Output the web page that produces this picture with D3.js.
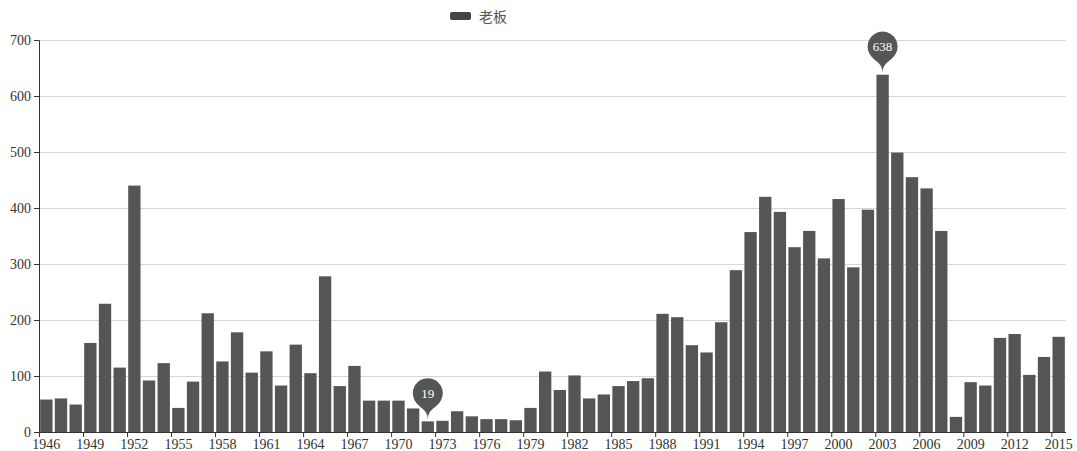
<!DOCTYPE html>
<html>
<head>
<meta charset="utf-8">
<script src="https://cdn.jsdelivr.net/npm/d3@7/dist/d3.min.js"></script>
<style>
  html, body { margin: 0; padding: 0; background: #fff; }
  svg { display: block; }
</style>
</head>
<body>
<svg id="chart" width="1077" height="451"></svg>
<script>
const seriesName = "老板";
const years = d3.range(1946, 2016).map(String);
const values = [
  58, 60, 49, 159, 229, 115, 440, 92, 123, 43,
  90, 212, 126, 178, 106, 144, 83, 156, 105, 278,
  82, 118, 56, 56, 56, 42, 19, 20, 37, 28,
  23, 23, 21, 43, 108, 75, 101, 60, 67, 82,
  91, 96, 211, 205, 155, 142, 196, 289, 357, 420,
  393, 330, 359, 310, 416, 294, 397, 638, 499, 455,
  435, 359, 27, 89, 83, 168, 175, 102, 134, 170
];
const yTicks = [0, 100, 200, 300, 400, 500, 600, 700];

const plotL = 39, plotR = 1066, plotT = 40, plotB = 432;
const font = "'Liberation Serif', 'DejaVu Serif', serif";
const barColor = "#555555";

const svg = d3.select("#chart");
const x = d3.scaleBand().domain(years).range([plotL, plotR]).paddingInner(0.16).paddingOuter(0.08);
const xb = d3.scaleBand().domain(years).range([plotL, plotR]);
const y = d3.scaleLinear().domain([0, 700]).range([plotB, plotT]);

// grid
svg.append("g").selectAll("line").data(yTicks.slice(1)).join("line")
  .attr("x1", plotL).attr("x2", plotR)
  .attr("y1", d => y(d) + 0.5).attr("y2", d => y(d) + 0.5)
  .attr("stroke", "#d6d6d6").attr("stroke-width", 1);

// bars
svg.append("g").selectAll("rect").data(values).join("rect")
  .attr("x", (d, i) => x(years[i]))
  .attr("width", x.bandwidth())
  .attr("y", d => y(d))
  .attr("height", d => plotB - y(d))
  .attr("fill", barColor);

// y axis
const yAxis = svg.append("g").attr("transform", `translate(${plotL},0)`)
  .call(d3.axisLeft(y).tickValues(yTicks).tickSize(5).tickPadding(3));
yAxis.select(".domain").attr("stroke", "#333");
yAxis.selectAll(".tick line").attr("stroke", "#333");
yAxis.selectAll("text").attr("fill", "#333").style("font-family", font).style("font-size", "14px");

// x axis
const xAxisG = svg.append("g").attr("transform", `translate(0,${plotB})`);
xAxisG.append("line").attr("x1", plotL).attr("x2", plotR).attr("y1", 0.5).attr("y2", 0.5).attr("stroke", "#333");
const shown = years.filter((d, i) => i % 3 === 0);
xAxisG.selectAll("line.tk").data(shown).join("line").attr("class", "tk")
  .attr("x1", d => xb(d) + 0.5).attr("x2", d => xb(d) + 0.5)
  .attr("y1", 0).attr("y2", 5).attr("stroke", "#333");
xAxisG.selectAll("text").data(shown).join("text")
  .attr("x", d => xb(d) + xb.bandwidth() / 2)
  .attr("y", 16.5)
  .attr("text-anchor", "middle")
  .attr("fill", "#333")
  .style("font-family", font).style("font-size", "14px")
  .text(d => d);

// mark points (pin)
function pinPath(px, tipY) {
  const w = 30, h = 48, r = w / 2;
  const dy = r * r / (h - r);
  const cy = tipY - h + r + dy;
  const angle = Math.asin(dy / r);
  const dx = Math.cos(angle) * r;
  const tanX = Math.sin(angle), tanY = Math.cos(angle);
  const cpLen = r * 0.6, cpLen2 = r * 0.7;
  const p = d3.path();
  p.moveTo(px - dx, cy + dy);
  p.arc(px, cy, r, Math.PI - angle, Math.PI * 2 + angle);
  p.bezierCurveTo(px + dx - tanX * cpLen, cy + dy + tanY * cpLen, px, tipY - cpLen2, px, tipY);
  p.bezierCurveTo(px, tipY - cpLen2, px - dx + tanX * cpLen, cy + dy + tanY * cpLen, px - dx, cy + dy);
  p.closePath();
  return { d: p.toString(), cy };
}
const maxI = values.indexOf(d3.max(values));
const minI = values.indexOf(d3.min(values));
[maxI, minI].forEach(i => {
  const px = x(years[i]) + x.bandwidth() / 2;
  const tip = y(values[i]) - 2;
  const pin = pinPath(px, tip);
  svg.append("path").attr("d", pin.d).attr("fill", barColor);
  svg.append("text").attr("x", px).attr("y", pin.cy + 4.5)
    .attr("text-anchor", "middle").attr("fill", "#fff")
    .style("font-family", font).style("font-size", "13px")
    .text(values[i]);
});

// legend
const lg = svg.append("g");
lg.append("rect").attr("x", 450).attr("y", 12).attr("width", 21).attr("height", 8).attr("rx", 2).attr("fill", "#444");
lg.append("text").attr("x", 479).attr("y", 21.5).attr("fill", "#555")
  .style("font-family", "'Noto Sans CJK SC', sans-serif").style("font-size", "14px")
  .text(seriesName);
</script>
</body>
</html>
